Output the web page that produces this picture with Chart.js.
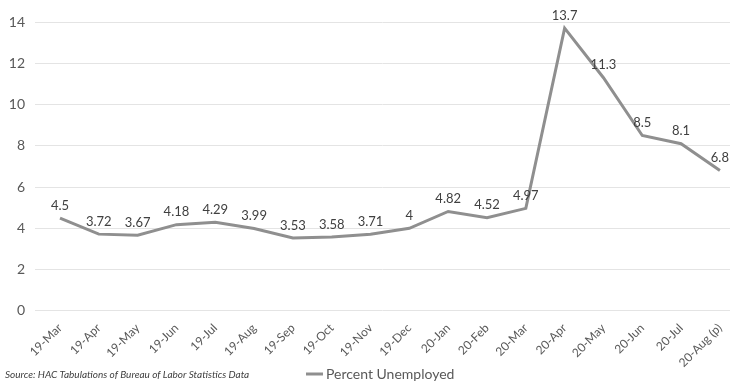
<!DOCTYPE html>
<html>
<head>
<meta charset="utf-8">
<script src="https://cdn.jsdelivr.net/npm/chart.js@4/dist/chart.umd.min.js"></script>
<style>
  html, body { margin: 0; padding: 0; background: #fff; }
  #wrap { width: 730px; height: 384px; }
</style>
</head>
<body>
<div id="wrap"><canvas id="unempChart"></canvas></div>
<script>
// datos del grafico
const months = ['19-Mar', '19-Apr', '19-May', '19-Jun', '19-Jul', '19-Aug', '19-Sep', '19-Oct', '19-Nov',
  '19-Dec', '20-Jan', '20-Feb', '20-Mar', '20-Apr', '20-May', '20-Jun', '20-Jul', '20-Aug (p)']
const unemployed = [4.5, 3.72, 3.67, 4.18, 4.29, 3.99, 3.53, 3.58, 3.71, 4, 4.82, 4.52, 4.97, 13.7, 11.3, 8.5, 8.1, 6.8]
const yTicks = [0, 2, 4, 6, 8, 10, 12, 14]
const seriesName = 'Percent Unemployed'
const sourceNote = 'Source: HAC Tabulations of Bureau of Labor Statistics Data'

const lineColor = '#8f8f8f'
const textColor = '#595959'
const fontFamily = 'Lato, "Liberation Sans", sans-serif'

// etiquetas encima de cada punto
const valueLabels = {
  id: 'valueLabels',
  afterDatasetsDraw(chart) {
    const ctx = chart.ctx
    const meta = chart.getDatasetMeta(0)
    ctx.save()
    ctx.font = '13px ' + fontFamily
    ctx.fillStyle = '#404040'
    ctx.textAlign = 'center'
    ctx.textBaseline = 'bottom'
    meta.data.forEach((pt, i) => {
      ctx.fillText(String(unemployed[i]), pt.x, pt.y - 6)
    })
    ctx.restore()
  }
}

// fuente y leyenda en la linea de abajo
const footer = {
  id: 'footer',
  afterDraw(chart) {
    const ctx = chart.ctx
    const y = chart.height - 10
    ctx.save()
    ctx.font = 'italic 10px ' + fontFamily
    ctx.fillStyle = '#404040'
    ctx.textBaseline = 'middle'
    ctx.fillText(sourceNote, 5, y + 1)
    ctx.strokeStyle = lineColor
    ctx.lineWidth = 3
    ctx.beginPath()
    ctx.moveTo(306, y)
    ctx.lineTo(323, y)
    ctx.stroke()
    ctx.font = '14px ' + fontFamily
    ctx.fillStyle = textColor
    ctx.fillText(chart.data.datasets[0].label, 326, y)
    ctx.restore()
  }
}

const renderChart = () => {
  const data = {
    datasets: [{
      label: seriesName,
      data: unemployed.map((v, i) => ({ x: i, y: v })),
      borderColor: lineColor,
      borderWidth: 3,
      pointRadius: 0,
      tension: 0
    }]
  }
  const options = {
    responsive: true,
    maintainAspectRatio: false,
    animation: false,
    layout: { padding: { top: 22, left: 0, right: 0, bottom: 12 } },
    plugins: {
      legend: { display: false },
      tooltip: { enabled: false }
    },
    scales: {
      x: {
        type: 'linear',
        min: -0.644,
        max: 17.26,
        afterBuildTicks: scale => { scale.ticks = months.map((m, i) => ({ value: i })) },
        // sin margen extra por las etiquetas giradas
        afterFit: scale => { scale.paddingLeft = 0; scale.paddingRight = 0 },
        grid: { display: false },
        border: { display: false },
        ticks: {
          autoSkip: false,
          minRotation: 45,
          maxRotation: 45,
          padding: 2,
          color: textColor,
          font: { family: fontFamily, size: 12 },
          callback: v => months[v]
        }
      },
      y: {
        min: 0,
        max: 14,
        afterBuildTicks: scale => { scale.ticks = yTicks.map(v => ({ value: v })) },
        afterFit: scale => { scale.width = 35 },
        grid: { color: '#e4e4e4', drawTicks: false },
        border: { display: false },
        ticks: {
          padding: 10,
          color: textColor,
          font: { family: fontFamily, size: 14 }
        }
      }
    }
  }
  new Chart('unempChart', { type: 'line', data, options, plugins: [valueLabels, footer] })
}

renderChart()
</script>
</body>
</html>
